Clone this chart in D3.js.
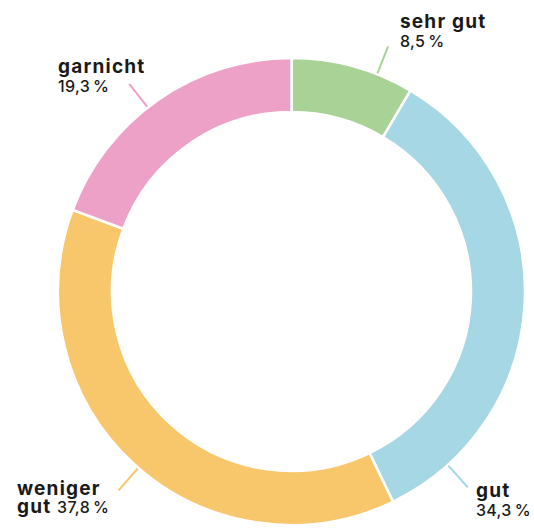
<!DOCTYPE html>
<meta charset="utf-8">
<style>
body { margin: 0; background: #fff; }
text { font-family: Inter, "Noto Sans", sans-serif; fill: #1a1a1a; }
.name { font-weight: 700; font-size: 19px; letter-spacing: 1.2px; }
.pct { font-weight: 500; font-size: 16px; letter-spacing: 0.3px; }
</style>
<svg width="534" height="528"></svg>
<script src="https://d3js.org/d3.v7.min.js"></script>
<script>

// data
var categories = ["sehr gut", "gut", "weniger gut", "garnicht"];
var shares = [8.5, 34.3, 37.8, 19.3];
var colours = ["#a9d396", "#a6d7e5", "#f8c76b", "#eea1c6"];

// layout: leader angle (deg from top, clockwise) and label anchor per category
var leader_deg = [21.5, 138, 221, 322];
var label_lines = [["sehr gut"], ["gut"], ["weniger", "gut"], ["garnicht"]];
var label_pos = [[400, 27.5], [476, 497], [17, 495], [58, 73]];

var svg = d3.select("svg");
var cx = 291.5, cy = 291.5;
var r_outer = 233.5, r_inner = 179.5;

var fmt = d3.formatLocale({decimal: ",", thousands: ".", grouping: [3], currency: ["", "€"]}).format(".1f");

var pie = d3.pie().sort(null).value(function(d) { return d; });
var arc = d3.arc().innerRadius(r_inner).outerRadius(r_outer);

var g = svg.append("g").attr("transform", "translate(" + cx + "," + cy + ")");

g.selectAll("path.slice")
  .data(pie(shares))
  .enter().append("path")
  .attr("class", "slice")
  .attr("d", arc)
  .style("fill", function(d, i) { return colours[i]; })
  .style("stroke", "#fff")
  .style("stroke-width", 2.5);

// leader lines
g.selectAll("line.leader")
  .data(leader_deg)
  .enter().append("line")
  .attr("class", "leader")
  .attr("x1", function(a) { return Math.sin(a * Math.PI / 180) * (r_outer + 1); })
  .attr("y1", function(a) { return -Math.cos(a * Math.PI / 180) * (r_outer + 1); })
  .attr("x2", function(a) { return Math.sin(a * Math.PI / 180) * (r_outer + 30); })
  .attr("y2", function(a) { return -Math.cos(a * Math.PI / 180) * (r_outer + 30); })
  .style("stroke", function(a, i) { return colours[i]; })
  .style("stroke-width", 2);

// labels: one text element per category, lines as tspans
categories.forEach(function(c, i) {
  var x = label_pos[i][0], y = label_pos[i][1];
  var lines = label_lines[i];
  var pct = fmt(shares[i]) + "\u202F%";
  var t = svg.append("text").attr("x", x).attr("y", y);
  t.append("tspan").attr("class", "name").attr("x", x).text(lines[0]);
  if (lines.length == 1) {
    t.append("tspan").attr("class", "pct").attr("x", x).attr("dy", 19).text(pct);
  } else {
    t.append("tspan").attr("class", "name").attr("x", x).attr("dy", 17.5).text(lines[1] + " ");
    t.append("tspan").attr("class", "pct").text(pct);
  }
});

</script>
